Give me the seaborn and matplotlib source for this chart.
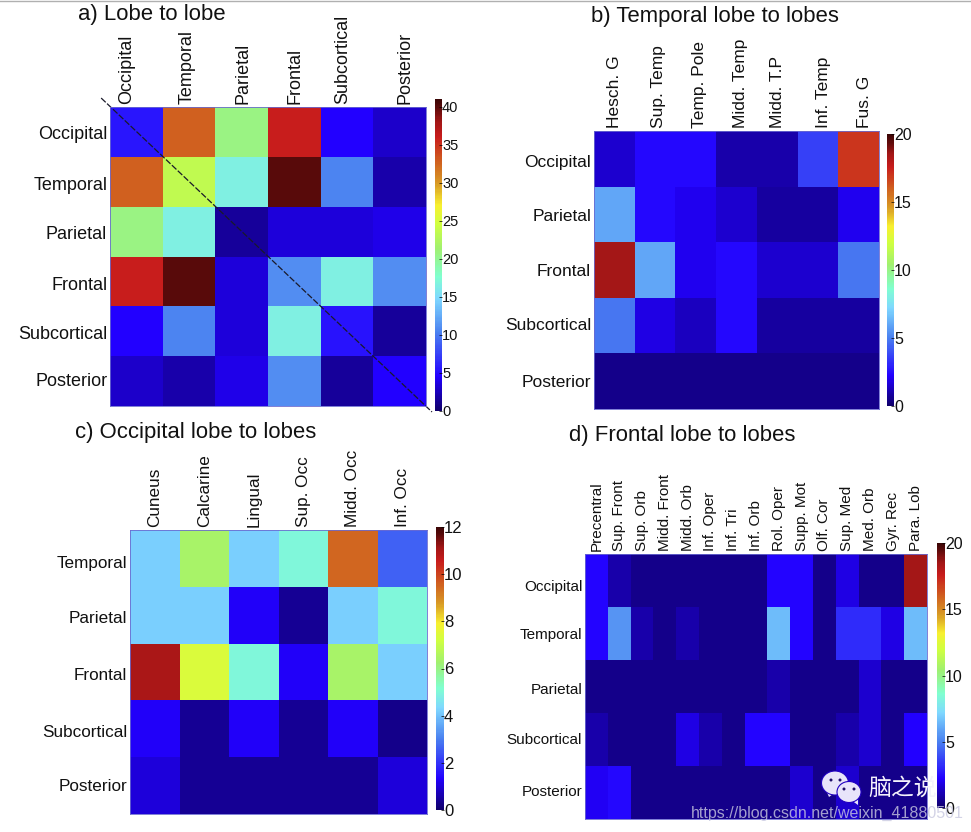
import pandas as pd
import seaborn as sns
import matplotlib.pyplot as plt
from matplotlib.colors import LinearSegmentedColormap
from matplotlib.patches import Ellipse, Polygon
from matplotlib.transforms import offset_copy

W, H = 971, 832

lobes_a = ['Occipital', 'Temporal', 'Parietal', 'Frontal', 'Subcortical', 'Posterior']
values_a = [
    [5.5, 32.8, 20.5, 36, 4.6, 3],
    [32.8, 23.5, 16.5, 40, 10.5, 2],
    [20.5, 16.5, 1.5, 3.5, 3.5, 4],
    [36, 40, 3.5, 11, 16.5, 11],
    [4.6, 10.5, 3.5, 16.5, 5.3, 1.5],
    [3, 2, 4, 11, 1.5, 4.5],
]

rows_b = ['Occipital', 'Parietal', 'Frontal', 'Subcortical', 'Posterior']
cols_b = ['Hesch. G', 'Sup. Temp', 'Temp. Pole', 'Midd. Temp', 'Midd. T.P', 'Inf. Temp', 'Fus. G']
values_b = [
    [1.5, 2.4, 2.4, 1, 1, 3.6, 17],
    [6, 2.4, 2, 1.5, 0.8, 0.8, 2],
    [18.5, 6, 2, 2.4, 1.5, 1.5, 4.8],
    [4.8, 1.8, 1.3, 2.4, 0.8, 0.8, 0.8],
    [0.5, 0.5, 0.5, 0.5, 0.5, 0.5, 0.5],
]

rows_c = ['Temporal', 'Parietal', 'Frontal', 'Subcortical', 'Posterior']
cols_c = ['Cuneus', 'Calcarine', 'Lingual', 'Sup. Occ', 'Midd. Occ', 'Inf. Occ']
values_c = [
    [4.2, 6.4, 4.2, 5, 9.5, 2.6],
    [4.2, 4.2, 1.3, 0.4, 4.2, 5],
    [11, 7.4, 5, 1.3, 6.4, 4.2],
    [1.3, 0.4, 1.3, 0.4, 1.3, 0.3],
    [1, 0.4, 0.4, 0.4, 0.4, 1],
]

rows_d = ['Occipital', 'Temporal', 'Parietal', 'Subcortical', 'Posterior']
cols_d = ['Precentral', 'Sup. Front', 'Sup. Orb', 'Midd. Front', 'Midd. Orb', 'Inf. Oper', 'Inf. Tri',
          'Inf. Orb', 'Rol. Oper', 'Supp. Mot', 'Olf. Cor', 'Sup. Med', 'Med. Orb', 'Gyr. Rec', 'Para. Lob']
values_d = [
    [2.3, 1, .5, .5, .5, .5, .5, .5, 2.3, 2.3, .5, 1.8, .5, .5, 18.5],
    [2.3, 5.5, 1, .5, 1, .5, .5, .5, 6.5, 2.3, .5, 3.2, 3.2, 1.8, 6.5],
    [.5, .5, .5, .5, .5, .5, .5, .5, 1, .5, .5, .5, 1.5, .5, .5],
    [1, .5, .5, .5, 1.8, 1, .5, 2.3, 2.3, .5, .5, 1, 1.5, .5, 2.2],
    [2.1, 2.4, .5, .5, .5, .5, .5, .5, .5, 1.5, .5, 1.5, .5, .5, .5],
]

plt.rcParams['font.family'] = ['Liberation Sans', 'DejaVu Sans']

# jet, slightly washed out like the screenshot
faded_jet = LinearSegmentedColormap.from_list('faded_jet', [
    (0.00, '#10006a'), (0.11, '#2200ff'), (0.25, '#4a80f0'), (0.36, '#7fd8ff'),
    (0.43, '#80ffd0'), (0.52, '#a0f070'), (0.60, '#d0ff40'), (0.66, '#f8f030'),
    (0.73, '#d89a25'), (0.80, '#d0601f'), (0.88, '#c81c1c'), (0.93, '#a01616'),
    (0.975, '#5a0a0a'), (1.00, '#3a0505'),
])


def px_axes(fig, left, top, right, bottom):
    return fig.add_axes([left / W, 1 - bottom / H, (right - left) / W, (bottom - top) / H])


def nudge(fig, labels, dx, dy):
    for label, x, y in zip(labels, dx, dy):
        label.set_transform(offset_copy(label.get_transform(), fig, x=x, y=-y, units='dots'))


def panel(fig, data, rows, cols, box, cbar_box, vmax, ticks, title, title_xy, fs, cbar_fs,
          x_shift=None, y_shift=None):
    ax = px_axes(fig, *box)
    cax = px_axes(fig, *cbar_box)
    table = pd.DataFrame(data, index=rows, columns=cols)
    sns.heatmap(table, ax=ax, cbar_ax=cax, cmap=faded_jet, vmin=0, vmax=vmax, cbar_kws={'ticks': ticks})
    ax.tick_params(axis='both', length=0, pad=2)
    ax.xaxis.tick_top()
    ax.set_xticklabels(cols, rotation=90, fontsize=fs, color='#111111')
    ax.set_yticklabels(rows, rotation=0, fontsize=fs, color='#111111')
    if x_shift:
        nudge(fig, ax.get_xticklabels(), x_shift, [0] * len(cols))
    if y_shift:
        nudge(fig, ax.get_yticklabels(), [0] * len(rows), y_shift)
    for side in ax.spines.values():
        side.set_visible(True)
        side.set_color('#6a6ad0')
        side.set_linewidth(0.6)
    cax.tick_params(length=2, width=0.5, direction='in', pad=0, labelsize=cbar_fs, labelcolor='#111111')
    fig.text(title_xy[0] / W, 1 - title_xy[1] / H, title, fontsize=15.9, color='#111111', va='baseline')
    return ax


fig = plt.figure(figsize=(W / 100, H / 100), dpi=100, facecolor='white')

ax_a = panel(fig, values_a, lobes_a, lobes_a, (110, 107, 426, 406), (435, 99, 442, 411), 41,
             [0, 5, 10, 15, 20, 25, 30, 35, 40], 'a) Lobe to lobe', (78, 20), 13, 10.5,
             x_shift=[-10, -2, 1, 1, -4, 5], y_shift=[3, 4, 3, 4, 3, 0])
ax_a.plot([-0.028, 1.019], [1.03, -0.02], transform=ax_a.transAxes, color='#1a1a2a', lw=0.9,
          ls=(0, (5, 1.5)), clip_on=False)

panel(fig, values_b, rows_b, cols_b, (594, 131, 879, 409), (887, 134, 894, 406), 20,
      [0, 5, 10, 15, 20], 'b) Temporal lobe to lobes', (591, 22), 12.5, 11.5,
      x_shift=[0, 3, 4, 4, 0, 6, 6], y_shift=[4, 2, 2, 0, 1])
panel(fig, values_c, rows_c, cols_c, (130, 530, 427, 814), (436, 527, 444, 810), 12,
      [0, 2, 4, 6, 8, 10, 12], 'c) Occipital lobe to lobes', (75, 438), 12.3, 12,
      y_shift=[5, 3, 4, 4, 1])
panel(fig, values_d, rows_d, cols_d, (585, 554, 927, 819), (937, 543, 945, 808), 20,
      [0, 5, 10, 15, 20], 'd) Frontal lobe to lobes', (569, 441), 11, 11.5,
      y_shift=[7, 2, 3, 0, 0])

# thin line along the top edge of the screenshot
fig.add_artist(plt.Line2D([0, 1], [1 - 1 / H, 1 - 1 / H], color='#b0b0b0', lw=1))


# wechat logo and blog watermark in the corner
def logo_bubble(cx, cy, w, h, tail, eyes):
    bubble = '#e8e4fa'
    fig.add_artist(Polygon([(p[0] / W, 1 - p[1] / H) for p in tail], transform=fig.transFigure,
                           facecolor=bubble, edgecolor='none', zorder=5))
    fig.add_artist(Ellipse((cx / W, 1 - cy / H), w / W, h / H, transform=fig.transFigure,
                           facecolor=bubble, edgecolor='#2000c0', linewidth=0.8, zorder=5))
    for ex in eyes:
        fig.add_artist(Ellipse((ex / W, 1 - (cy - 3) / H), 3 / W, 3 / H, transform=fig.transFigure,
                               facecolor='#20106a', edgecolor='none', zorder=6))


logo_bubble(835, 783, 27, 24, [(826, 790), (833, 794), (829, 797)], [831, 840])
logo_bubble(849, 792, 24, 21, [(851, 800), (858, 799), (858, 805)], [844, 854])
fig.text(868 / W, 1 - 788 / H, '脑之说', fontsize=16.5, color='#f4f2fc', va='center', zorder=6,
         family=['Noto Sans CJK SC', 'DejaVu Sans'])
fig.text(691 / W, 1 - 813 / H, 'https://blog.csdn.net/weixin_41880501', fontsize=11.5, color='#c8c8e0',
         alpha=0.8, va='center', zorder=6)

fig.savefig('out.png', dpi=100)
